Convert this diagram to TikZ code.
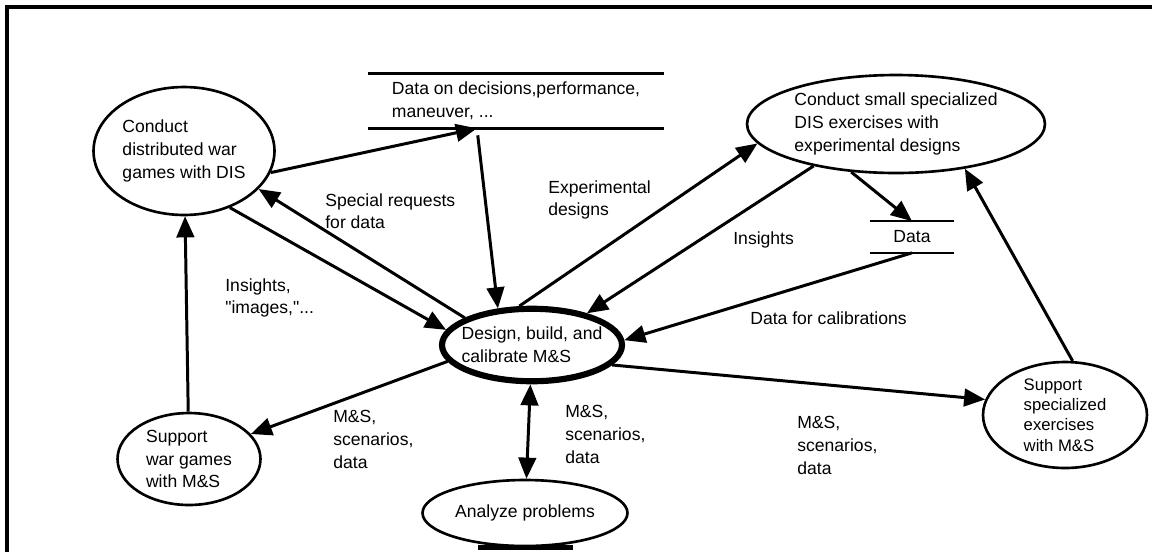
\documentclass[tikz,border=0pt]{standalone}
\usepackage{fontspec}
\setmainfont{Liberation Sans}
\usetikzlibrary{arrows.meta,shapes.geometric}

\tikzset{
  proc/.style={draw, ellipse, line width=1.5pt, inner sep=0pt, align=left, font=\fontsize{10}{13}\selectfont},
  store/.style={inner sep=0pt, align=left, font=\fontsize{10}{13}\selectfont},
  lbl/.style={anchor=north west, inner sep=0pt, align=left, font=\fontsize{10}{13}\selectfont},
  flow/.style={->, >={Triangle[length=12pt,width=10pt]}, line width=1.7pt},
}

\begin{document}
\begin{tikzpicture}[x=0.02cm,y=-0.02cm]
\useasboundingbox (0,0) rectangle (1152,552);
\draw[line width=2pt] (7,552) -- (7,7) -- (1152,7);

\node[proc, minimum width=3.62cm, minimum height=2.56cm] (P1) at (184,151) {Conduct\\distributed war\\games with DIS};
\node[proc, minimum width=5.96cm, minimum height=1.96cm] (P2) at (896,124) {Conduct small specialized\\DIS exercises with\\experimental designs};
\node[proc, line width=3.5pt, inner xsep=-4pt, minimum width=3.6cm, minimum height=1.45cm] (P3) at (532,345) {Design, build, and\\calibrate M\&S};
\node[proc, minimum width=2.86cm, minimum height=1.84cm] (P4) at (189,459) {Support\\war games\\with M\&S};
\node[proc, minimum width=4.1cm, minimum height=1.32cm] (P5) at (525,513) {Analyze problems};
\node[proc, font=\fontsize{9.5}{11.5}\selectfont, minimum width=3.28cm, minimum height=2.12cm] (P6) at (1065,415) {Support\\specialized\\exercises\\with M\&S};

\node[store, minimum width=5.9cm, minimum height=1.08cm] (S1) at (516,101) {Data on decisions,performance,\\maneuver, ...};
\node[store, minimum width=1.68cm, minimum height=0.62cm] (S2) at (912,237) {Data};
\draw[line width=1.5pt] (S1.north west) -- (S1.north east);
\draw[line width=1.5pt] (S1.south west) -- (S1.south east);
\draw[line width=1.5pt] (S2.north west) -- (S2.north east);
\draw[line width=1.5pt] (S2.south west) -- (S2.south east);
\draw[line width=3pt] (P5.south) ++(-47,0) -- ++(95,0);

\path[flow] (P1.-14) edge [] node[]{} (S1.-145);
\path[flow] (S1.-145) edge [shorten <=4pt] node[]{} (P3.133);
\path[flow] (P3.158) edge [] node[]{} (P1.-27);
\path[flow] (P1.-51) edge [] node[]{} (P3.170);
\path[flow] (P3.108) edge [] node[]{} (P2.-172);
\path[flow] (P2.-153) edge [] node[]{} (P3.30);
\path[flow] (P2.-133) edge [] node[]{} (S2.north);
\path[flow] (S2.south) edge [] node[]{} (P3.3);
\path[flow] (P3.-169) edge [] node[]{} (P4.22);
\path[flow] (P4) edge [] node[]{} (P1);
\path[flow] (P3) edge [<->] node[]{} (P5);
\path[flow] (P3.-14) edge [] node[]{} (P6.169);
\path[flow] (P6.82) edge [] node[]{} (P2.-33);

\node[lbl] (L1) at (325,193) {Special requests\\for data};
\node[lbl] (L2) at (548,180) {Experimental\\designs};
\node[lbl] (L3) at (733,231) {Insights};
\node[lbl] (L4) at (225,278) {Insights,\\\textquotedbl images,\textquotedbl...};
\node[lbl] (L5) at (750,311) {Data for calibrations};
\node[lbl] (L6) at (333,410) {M\&S,\\scenarios,\\data};
\node[lbl] (L7) at (565,405) {M\&S,\\scenarios,\\data};
\node[lbl] (L8) at (797,416) {M\&S,\\scenarios,\\data};
\end{tikzpicture}
\end{document}
